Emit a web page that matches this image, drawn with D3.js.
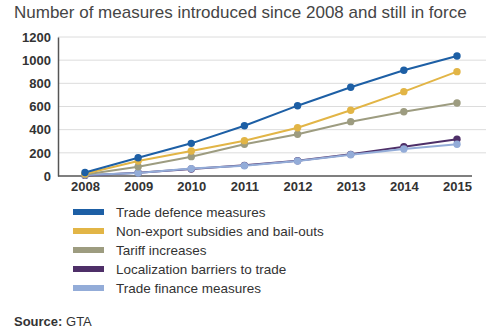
<!DOCTYPE html>
<html>
<head>
<meta charset="utf-8">
<script src="https://cdn.jsdelivr.net/npm/d3@7"></script>
<style>
  body { margin: 0; background: #fff; }
  svg text { font-family: "Liberation Sans", Arial, sans-serif; }
</style>
</head>
<body>
<svg id="chart" width="492" height="332"></svg>
<script>
// years on the x axis
var years = [2008, 2009, 2010, 2011, 2012, 2013, 2014, 2015];
var yTicks = [0, 200, 400, 600, 800, 1000, 1200];

var seriesNames = [
    'Trade defence measures',
    'Non-export subsidies and bail-outs',
    'Tariff increases',
    'Localization barriers to trade',
    'Trade finance measures'
];
var seriesColors = ['#1d5fa5', '#e2b546', '#9d9c80', '#4e2f68', '#93acd8'];

var tradeDefence = [30, 158, 282, 434, 607, 766, 913, 1036];
var nonExport = [20, 130, 216, 305, 417, 567, 728, 901];
var tariffs = [12, 80, 167, 274, 360, 469, 555, 630];
var localization = [5, 28, 60, 92, 132, 187, 253, 317];
var tradeFinance = [8, 26, 64, 88, 130, 184, 233, 274];

var allSeries = [tradeDefence, nonExport, tariffs, localization, tradeFinance];

var svg = d3.select('#chart');
var plotLeft = 58, plotRight = 472, plotTop = 37, plotBottom = 176;

var x = d3.scalePoint().domain(years).range([85, 457]);
var y = d3.scaleLinear().domain([0, 1200]).range([plotBottom, plotTop]);

svg.append('text')
    .attr('x', 14).attr('y', 18)
    .attr('fill', '#454545')
    .style('font-size', '17px')
    .text('Number of measures introduced since 2008 and still in force');

// gridlines
svg.append('g').selectAll('line').data(yTicks.slice(1)).enter().append('line')
    .attr('x1', plotLeft).attr('x2', 486)
    .attr('y1', function(d) { return y(d); }).attr('y2', function(d) { return y(d); })
    .attr('stroke', '#dcdcdc').attr('stroke-width', 1);

var yAxis = svg.append('g')
    .attr('transform', 'translate(' + plotLeft + ',0)')
    .call(d3.axisLeft(y).tickValues(yTicks).tickSize(0).tickPadding(7).tickFormat(d3.format('d')));
yAxis.select('.domain').attr('stroke', '#555').attr('stroke-width', 1.5);
yAxis.selectAll('text').attr('fill', '#333').style('font-size', '13px').style('font-weight', 'bold');

var xAxis = svg.append('g')
    .attr('transform', 'translate(0,' + plotBottom + ')')
    .call(d3.axisBottom(x).tickSize(0).tickPadding(6).tickFormat(d3.format('d')));
xAxis.select('.domain').attr('d', 'M' + plotLeft + ',0H' + plotRight).attr('stroke', '#555').attr('stroke-width', 1.5);
xAxis.selectAll('text').attr('fill', '#333').style('font-size', '13px').style('font-weight', 'bold');

var line = d3.line()
    .x(function(d, i) { return x(years[i]); })
    .y(function(d) { return y(d); });

// trade finance sits over localization, as in the original
var order = [3, 4, 2, 1, 0];
order.forEach(function(k) {
    var g = svg.append('g');
    g.append('path')
        .datum(allSeries[k])
        .attr('d', line)
        .attr('fill', 'none')
        .attr('stroke', seriesColors[k])
        .attr('stroke-width', 2);
    g.selectAll('circle').data(allSeries[k]).enter().append('circle')
        .attr('cx', function(d, i) { return x(years[i]); })
        .attr('cy', function(d) { return y(d); })
        .attr('r', 3.7)
        .attr('fill', seriesColors[k]);
});

// legend
var legend = svg.append('g').selectAll('g').data(seriesNames).enter().append('g')
    .attr('transform', function(d, i) { return 'translate(73,' + (212 + i * 19) + ')'; });
legend.append('rect')
    .attr('x', 0).attr('y', -3).attr('width', 31).attr('height', 6)
    .attr('fill', function(d, i) { return seriesColors[i]; });
legend.append('text')
    .attr('x', 43).attr('y', 5)
    .attr('fill', '#333')
    .style('font-size', '13.5px')
    .text(function(d) { return d; });

svg.append('text')
    .attr('x', 14).attr('y', 326)
    .attr('fill', '#333')
    .style('font-size', '13px')
    .html('<tspan font-weight="bold">Source:</tspan> GTA');
</script>
</body>
</html>
